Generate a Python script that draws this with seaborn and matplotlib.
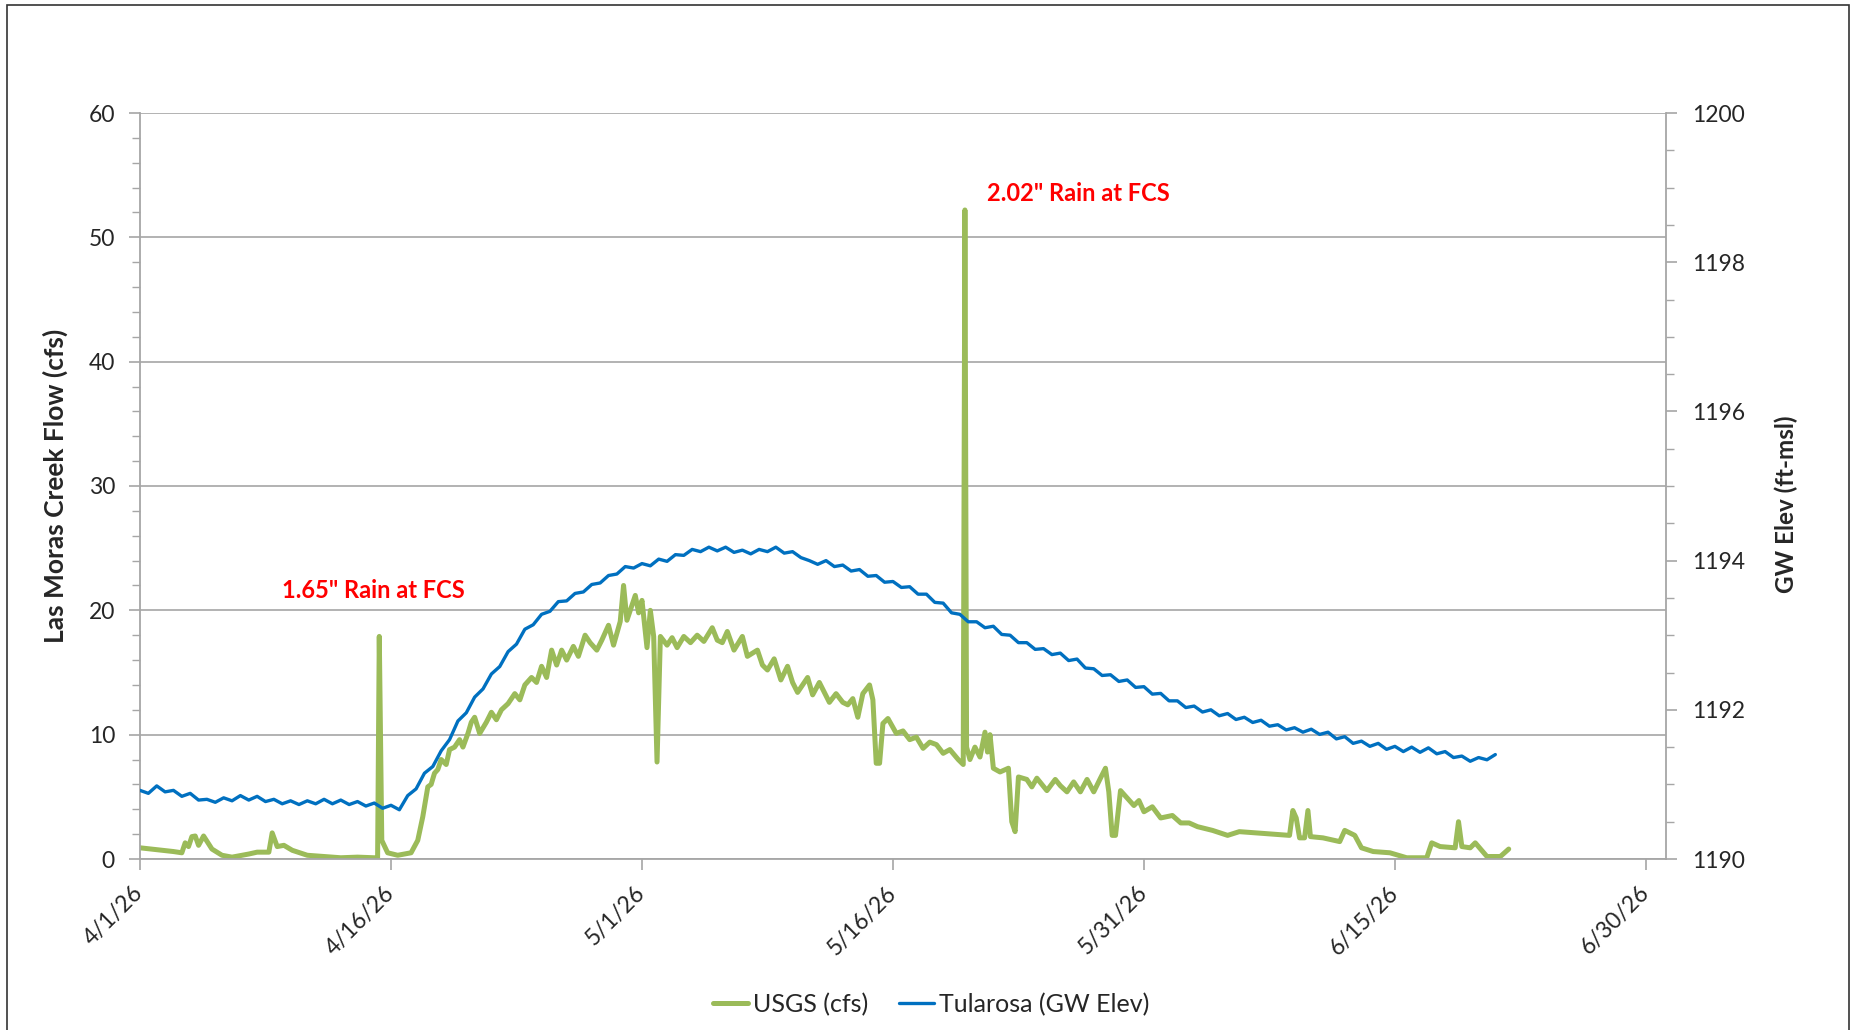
import matplotlib
matplotlib.use("Agg")
import matplotlib.pyplot as plt
from matplotlib.ticker import MultipleLocator
from matplotlib.patches import Rectangle
import pandas as pd
import seaborn as sns

START = pd.Timestamp("2026-04-01")

# === Data ===
# USGS creek flow, x = days after 4/1/26
flow_days = [
    0.0, 1.0, 2.0, 2.5, 2.7, 2.9, 3.1, 3.3, 3.5, 3.8, 4.3, 4.9, 5.5, 6.5, 7.0, 7.7, 7.9, 8.2, 8.6, 9.1,
    10.0, 11.0, 12.0, 13.0, 14.0, 14.2, 14.3, 14.45, 14.8, 15.4, 16.2, 16.6, 16.9, 17.2, 17.4, 17.6, 17.8,
    18.0, 18.3, 18.5, 18.8, 19.1, 19.3, 19.6, 19.8, 20.0, 20.3, 20.7, 21.0, 21.3, 21.6, 22.0, 22.4, 22.7,
    23.0, 23.4, 23.7, 24.0, 24.3, 24.6, 24.9, 25.2, 25.5, 25.9, 26.2, 26.6, 26.9, 27.3, 27.6, 28.0, 28.3,
    28.7, 28.9, 29.1, 29.3, 29.6, 29.8, 30.0, 30.3, 30.5, 30.7, 30.9, 31.1, 31.5, 31.8, 32.1, 32.5, 32.9,
    33.3, 33.7, 34.2, 34.5, 34.8, 35.1, 35.5, 36.0, 36.3, 36.9, 37.2, 37.5, 37.9, 38.3, 38.7, 39.0, 39.3,
    39.9, 40.2, 40.6, 41.2, 41.6, 42.0, 42.3, 42.6, 42.9, 43.2, 43.6, 43.8, 44.0, 44.2, 44.4, 44.7, 45.2,
    45.6, 46.0, 46.4, 46.8, 47.2, 47.6, 48.0, 48.4, 48.9, 49.2, 49.3, 49.4, 49.6, 49.9, 50.2, 50.5, 50.65,
    50.8, 51.0, 51.4, 51.9, 52.1, 52.3, 52.5, 53.0, 53.3, 53.6, 54.2, 54.7, 55.0, 55.4, 55.8, 56.2, 56.6,
    57.0, 57.4, 57.7, 57.9, 58.1, 58.3, 58.6, 59.0, 59.4, 59.7, 60.0, 60.5, 61.0, 61.7, 62.2, 62.7, 63.2,
    64.1, 65.0, 65.7, 66.7, 67.7, 68.7, 68.9, 69.1, 69.3, 69.6, 69.8, 69.95, 70.7, 71.7, 72.0, 72.6, 73.0,
    73.7, 74.7, 75.7, 76.9, 77.2, 77.7, 78.6, 78.8, 79.0, 79.5, 79.8, 80.5, 81.3, 81.8,
]
flow_cfs = [
    0.9, 0.75, 0.6, 0.5, 1.3, 1.0, 1.8, 1.85, 1.1, 1.85, 0.8, 0.3, 0.15, 0.4, 0.55, 0.55, 2.1, 1.0, 1.1, 0.7,
    0.3, 0.2, 0.1, 0.15, 0.1, 0.1, 17.9, 1.5, 0.5, 0.3, 0.5, 1.5, 3.4, 5.8, 6.0, 6.9, 7.2,
    8.0, 7.6, 8.8, 9.0, 9.6, 9.0, 10.1, 11.0, 11.4, 10.1, 11.0, 11.8, 11.2, 12.0, 12.5, 13.3, 12.8,
    14.0, 14.6, 14.2, 15.5, 14.6, 16.8, 15.6, 16.8, 16.0, 17.1, 16.3, 18.0, 17.4, 16.8, 17.6, 18.8, 17.2,
    19.1, 22.0, 19.2, 20.0, 21.2, 19.8, 20.8, 17.0, 20.0, 17.9, 7.8, 17.9, 17.2, 17.8, 17.0, 17.9, 17.4,
    18.0, 17.5, 18.6, 17.6, 17.4, 18.3, 16.8, 17.9, 16.3, 16.8, 15.6, 15.2, 16.1, 14.4, 15.5, 14.2, 13.4,
    14.6, 13.2, 14.2, 12.6, 13.3, 12.6, 12.4, 12.9, 11.4, 13.3, 14.0, 12.8, 7.7, 7.7, 10.9, 11.3, 10.1,
    10.3, 9.6, 9.8, 8.9, 9.4, 9.2, 8.5, 8.8, 8.0, 7.6, 52.2, 9.0, 8.0, 9.0, 8.2, 10.2, 8.6,
    10.0, 7.3, 7.0, 7.3, 3.0, 2.2, 6.6, 6.4, 5.8, 6.5, 5.5, 6.4, 5.9, 5.4, 6.2, 5.4, 6.4,
    5.4, 6.5, 7.3, 5.4, 1.9, 1.9, 5.5, 4.9, 4.3, 4.7, 3.8, 4.2, 3.3, 3.5, 2.9, 2.9, 2.6,
    2.3, 1.9, 2.2, 2.1, 2.0, 1.9, 3.9, 3.3, 1.7, 1.7, 3.9, 1.8, 1.7, 1.4, 2.3, 1.9, 0.9,
    0.6, 0.5, 0.1, 0.1, 1.3, 1.0, 0.9, 3.0, 1.0, 0.9, 1.3, 0.2, 0.2, 0.8,
]

# Tularosa well GW elevation (ft-msl), one reading every 12 hours from 4/1/26
gw_elev = [
    1190.92, 1190.88, 1190.98, 1190.90, 1190.92, 1190.84, 1190.88, 1190.79, 1190.80, 1190.76,
    1190.82, 1190.78, 1190.85, 1190.79, 1190.84, 1190.77, 1190.80, 1190.74, 1190.78, 1190.73,
    1190.78, 1190.74, 1190.80, 1190.74, 1190.79, 1190.73, 1190.77, 1190.71, 1190.75, 1190.68,
    1190.72, 1190.66, 1190.85, 1190.94, 1191.15, 1191.24, 1191.45, 1191.60, 1191.85, 1191.96,
    1192.17, 1192.28, 1192.48, 1192.58, 1192.78, 1192.88, 1193.08, 1193.14, 1193.28, 1193.32,
    1193.45, 1193.46, 1193.56, 1193.58, 1193.68, 1193.70, 1193.80, 1193.82, 1193.92, 1193.90,
    1193.96, 1193.93, 1194.02, 1193.99, 1194.08, 1194.07, 1194.15, 1194.12, 1194.18, 1194.13,
    1194.18, 1194.11, 1194.14, 1194.09, 1194.15, 1194.12, 1194.18, 1194.10, 1194.12, 1194.04,
    1194.00, 1193.95, 1194.00, 1193.92, 1193.94, 1193.86, 1193.88, 1193.79, 1193.80, 1193.71,
    1193.72, 1193.64, 1193.65, 1193.55, 1193.55, 1193.44, 1193.43, 1193.30, 1193.28, 1193.18,
    1193.18, 1193.10, 1193.12, 1193.01, 1193.00, 1192.90, 1192.90, 1192.81, 1192.82, 1192.74,
    1192.76, 1192.66, 1192.68, 1192.56, 1192.55, 1192.46, 1192.47, 1192.38, 1192.40, 1192.30,
    1192.31, 1192.21, 1192.22, 1192.12, 1192.12, 1192.03, 1192.05, 1191.97, 1192.00, 1191.92,
    1191.95, 1191.87, 1191.90, 1191.83, 1191.86, 1191.78, 1191.80, 1191.73, 1191.76, 1191.70,
    1191.74, 1191.67, 1191.70, 1191.61, 1191.64, 1191.55, 1191.58, 1191.51, 1191.55, 1191.47,
    1191.51, 1191.44, 1191.50, 1191.43, 1191.49, 1191.41, 1191.44, 1191.36, 1191.38, 1191.31,
    1191.36, 1191.33, 1191.40,
]

tick_dates = ["2026-04-01", "2026-04-16", "2026-05-01", "2026-05-16",
              "2026-05-31", "2026-06-15", "2026-06-30"]
series_names = ["USGS (cfs)", "Tularosa (GW Elev)"]
rain_notes = ['1.65" Rain at FCS', '2.02" Rain at FCS']

GREEN = "#9BBB59"
BLUE = "#0070C0"
GRAY = "#A6A6A6"


def main():
    flow = pd.DataFrame({
        "time": START + pd.to_timedelta(flow_days, unit="D"),
        "cfs": flow_cfs,
    })
    gw = pd.DataFrame({
        "time": pd.date_range(START, periods=len(gw_elev), freq="12h"),
        "elev": gw_elev,
    })

    sns.set_style("white")
    plt.rcParams["font.family"] = ["Lato", "DejaVu Sans"]

    fig = plt.figure(figsize=(18.55, 10.30), dpi=100)
    ax = fig.add_axes([140 / 1855, 171 / 1030, 1526 / 1855, 746 / 1030])
    ax2 = ax.twinx()

    sns.lineplot(data=flow, x="time", y="cfs", ax=ax, color=GREEN, lw=3.6, label=series_names[0])
    sns.lineplot(data=gw, x="time", y="elev", ax=ax2, color=BLUE, lw=2.4, label=series_names[1])

    # === Axes ===
    ax.set_xlim(START, START + pd.Timedelta(days=91.2))
    ax.set_ylim(0, 60)
    ax2.set_ylim(1190, 1200)

    ticks = pd.to_datetime(tick_dates)
    ax.set_xticks(ticks)
    ax.set_xticklabels([f"{d.month}/{d.day}/{d.year % 100}" for d in ticks],
                       rotation=45, ha="right", va="center", rotation_mode="anchor")

    ax.yaxis.set_major_locator(MultipleLocator(10))
    ax.yaxis.set_minor_locator(MultipleLocator(2))
    ax2.yaxis.set_major_locator(MultipleLocator(2))
    ax2.yaxis.set_minor_locator(MultipleLocator(0.5))

    ax.yaxis.grid(True, which="major", color=GRAY, lw=1.2)
    ax.set_axisbelow(True)

    for a in (ax, ax2):
        for s in a.spines.values():
            s.set_visible(False)
    ax.spines["left"].set_visible(True)
    ax.spines["bottom"].set_visible(True)
    ax2.spines["right"].set_visible(True)
    for s in (ax.spines["left"], ax.spines["bottom"], ax2.spines["right"]):
        s.set_color(GRAY)
        s.set_linewidth(1.3)

    ax.tick_params(axis="y", which="major", length=8, width=1.2, color=GRAY,
                   labelsize=16.5, pad=10, left=True)
    ax.tick_params(axis="y", which="minor", length=6, width=1.0, color=GRAY, left=True)
    ax.tick_params(axis="x", which="major", length=8, width=1.2, color=GRAY,
                   labelsize=16.5, pad=14, bottom=True)
    ax2.tick_params(axis="y", which="major", length=8, width=1.2, color=GRAY,
                    labelsize=16.5, pad=11, right=True)
    ax2.tick_params(axis="y", which="minor", length=6, width=1.0, color=GRAY, right=True)

    ax.set_xlabel("")
    ax.set_ylabel("Las Moras Creek Flow (cfs)", fontsize=19, fontweight="bold")
    ax2.set_ylabel("GW Elev (ft-msl)", fontsize=17.5, fontweight="bold")
    ax.yaxis.set_label_coords(-0.047, 0.5)
    ax2.yaxis.set_label_coords(1.071, 0.475)

    # === Rain notes ===
    ax.text(START + pd.Timedelta(days=8.5), 21.6, rain_notes[0], color="red",
            fontsize=17, fontweight="bold", va="center", ha="left")
    ax.text(START + pd.Timedelta(days=50.6), 53.5, rain_notes[1], color="red",
            fontsize=17, fontweight="bold", va="center", ha="left")

    # === Legend ===
    h1, l1 = ax.get_legend_handles_labels()
    h2, l2 = ax2.get_legend_handles_labels()
    ax.get_legend().remove()
    ax2.get_legend().remove()
    fig.legend(h1 + h2, l1 + l2, loc="center", bbox_to_anchor=(0.502, 0.025), ncol=2,
               frameon=False, fontsize=18, handlelength=1.4, handletextpad=0.2,
               columnspacing=1.2)

    # outer chart border
    fig.patches.append(Rectangle((7 / 1855, -0.01), 1842 / 1855, 1.005, transform=fig.transFigure,
                                 fill=False, ec="#333333", lw=1.2))

    fig.savefig("out.png", dpi=100)


if __name__ == "__main__":
    main()
